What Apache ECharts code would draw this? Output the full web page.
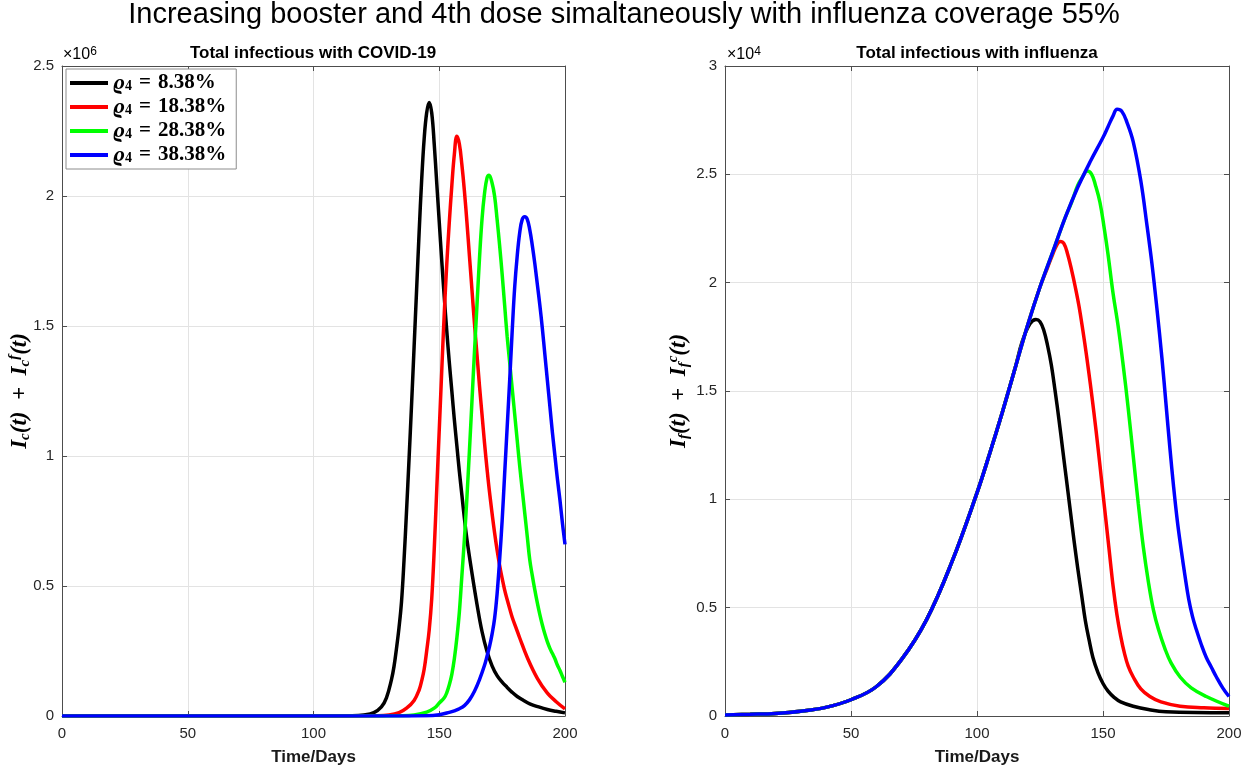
<!DOCTYPE html>
<html>
<head>
<meta charset="utf-8">
<script src="https://cdn.jsdelivr.net/npm/echarts@6/dist/echarts.min.js"></script>
<style>
  html, body { margin: 0; padding: 0; background: #fff; }
  #chart { width: 1248px; height: 773px; }
</style>
</head>
<body>
<div id="chart"></div>
<script>
const mainTitle = 'Increasing booster and 4th dose simaltaneously with influenza coverage 55%'
const panelTitles = ['Total infectious with COVID-19', 'Total infectious with influenza']
const doseLabels = ['8.38%', '18.38%', '28.38%', '38.38%']
const lineColors = ['#000000', '#ff0000', '#00ff00', '#0000ff']

// left panel: COVID-19 infectious, in units of 1e6
const covidT1 = [0, 100, 115, 120, 124, 127, 129, 131, 132, 133, 134, 135, 136, 137, 138, 139, 140, 141, 142, 143, 144, 145, 146, 147, 148, 149, 150, 151, 152, 153, 154, 155, 156, 157, 158, 159, 160, 161, 163, 165, 167, 169, 171, 173, 175, 177, 179, 181, 183.5, 186, 189.5, 193, 196.5, 200]
const covidV1 = [0, 0, 0.001, 0.004, 0.013, 0.035, 0.07, 0.14, 0.19, 0.26, 0.34, 0.44, 0.6, 0.79, 0.99, 1.2, 1.42, 1.64, 1.86, 2.06, 2.22, 2.32, 2.36, 2.32, 2.2, 2.05, 1.9, 1.75, 1.61, 1.48, 1.36, 1.25, 1.14, 1.04, 0.94, 0.85, 0.76, 0.68, 0.55, 0.43, 0.325, 0.248, 0.193, 0.155, 0.13, 0.11, 0.091, 0.075, 0.06, 0.047, 0.035, 0.025, 0.018, 0.012]
const covidT2 = [0, 110, 125, 130, 134, 137, 140, 142, 143, 144, 145, 146, 147, 148, 149, 150, 151, 152, 153, 154, 155, 156, 157, 158, 159, 160, 161, 162, 163, 164, 165, 166, 167, 168, 169, 170, 172, 174, 176, 177, 178, 179, 180.5, 182, 185, 189, 193, 196.5, 200]
const covidV2 = [0, 0, 0.001, 0.004, 0.013, 0.03, 0.06, 0.1, 0.135, 0.18, 0.25, 0.33, 0.45, 0.64, 0.87, 1.1, 1.33, 1.55, 1.74, 1.9, 2.04, 2.16, 2.23, 2.2, 2.12, 2.02, 1.9, 1.77, 1.64, 1.51, 1.39, 1.27, 1.16, 1.05, 0.95, 0.86, 0.705, 0.58, 0.485, 0.448, 0.413, 0.38, 0.34, 0.3, 0.225, 0.145, 0.088, 0.055, 0.027]
const covidT3 = [0, 120, 135, 140, 145, 148, 150, 152, 153, 154, 155, 156, 157, 158, 159, 160, 161, 162, 163, 164, 165, 166, 167, 168, 169, 169.8, 171, 172, 173, 174, 175, 176, 177, 178, 179, 180, 181, 182, 183, 184, 185, 186, 187, 188, 189, 190, 191, 192, 193, 194, 195, 196, 197, 198, 199, 200]
const covidV3 = [0, 0, 0.001, 0.004, 0.015, 0.03, 0.05, 0.07, 0.09, 0.12, 0.16, 0.22, 0.3, 0.4, 0.54, 0.68, 0.84, 1.02, 1.21, 1.4, 1.58, 1.76, 1.91, 2.01, 2.07, 2.08, 2.05, 2.0, 1.91, 1.81, 1.7, 1.58, 1.46, 1.36, 1.26, 1.16, 1.06, 0.96, 0.87, 0.78, 0.69, 0.6, 0.54, 0.485, 0.435, 0.39, 0.35, 0.315, 0.285, 0.26, 0.24, 0.22, 0.195, 0.175, 0.152, 0.13]
const covidT4 = [0, 130, 145, 150, 154, 156, 158, 160, 162, 164, 166, 168, 169, 170, 171, 172, 173, 174, 175, 176, 177, 178, 179, 180, 181, 182, 183, 184, 185, 186, 187, 188, 189, 190, 191, 192, 193, 194, 195, 196, 197, 198, 199, 200]
const covidV4 = [0, 0, 0.001, 0.005, 0.014, 0.02, 0.028, 0.04, 0.062, 0.095, 0.14, 0.195, 0.23, 0.268, 0.315, 0.375, 0.47, 0.6, 0.75, 0.93, 1.11, 1.29, 1.48, 1.65, 1.77, 1.86, 1.91, 1.92, 1.91, 1.87, 1.81, 1.74, 1.66, 1.58, 1.49, 1.39, 1.29, 1.19, 1.09, 1.0, 0.91, 0.83, 0.74, 0.66]

// right panel: influenza infectious, in units of 1e4
// common rising part shared by all four curves
const fluRiseT = [0, 10, 20, 30, 40, 50, 60, 70, 80, 90, 100, 105, 110, 115, 120, 125, 130, 135, 140, 145, 150]
const fluRiseV = [0.005, 0.008, 0.012, 0.022, 0.04, 0.075, 0.135, 0.26, 0.445, 0.71, 1.03, 1.21, 1.40, 1.60, 1.80, 1.98, 2.14, 2.30, 2.44, 2.56, 2.67]
// where each curve leaves the common part
const fluTailT1 = [118, 121, 123.4, 125, 126.5, 128, 129.5, 131, 132.5, 134, 135.5, 137, 138.5, 140, 141.5, 143, 144.5, 146, 148, 150, 152, 154.5, 157, 162, 168, 175, 200]
const fluTailV1 = [1.73, 1.81, 1.83, 1.82, 1.78, 1.71, 1.62, 1.5, 1.37, 1.23, 1.09, 0.95, 0.81, 0.68, 0.56, 0.44, 0.35, 0.27, 0.2, 0.15, 0.115, 0.085, 0.065, 0.045, 0.03, 0.02, 0.015]
const fluTailT2 = [128, 130, 131.5, 133, 134.5, 136, 137.5, 139, 140.5, 142, 143.5, 145, 146.5, 148, 149.5, 151, 152.5, 154, 155.5, 157, 158.5, 160, 162, 165, 168.6, 173, 180.6, 190, 200]
const fluTailV2 = [2.07, 2.13, 2.17, 2.19, 2.18, 2.13, 2.06, 1.98, 1.89, 1.78, 1.66, 1.53, 1.39, 1.24, 1.08, 0.92, 0.76, 0.6, 0.47, 0.37, 0.29, 0.23, 0.18, 0.125, 0.09, 0.065, 0.045, 0.038, 0.035]
const fluTailT3 = [137.5, 140, 142, 143.7, 145.5, 147, 148.8, 150.5, 152, 154, 156, 158, 160, 162, 164, 166, 168, 170, 172, 174.6, 177, 180.6, 185, 191, 200]
const fluTailV3 = [2.37, 2.45, 2.49, 2.515, 2.5, 2.45, 2.37, 2.25, 2.13, 1.95, 1.8, 1.62, 1.42, 1.2, 0.98, 0.78, 0.62, 0.49, 0.4, 0.31, 0.245, 0.18, 0.13, 0.09, 0.045]
const fluTailT4 = [152, 154, 155.6, 157.5, 159.5, 162, 165, 167.5, 169.5, 171.4, 173.4, 175, 176.6, 178, 179.5, 181, 182.5, 184, 185.5, 187, 189, 191, 193, 195, 197.5, 200]
const fluTailV4 = [2.72, 2.77, 2.8, 2.79, 2.74, 2.65, 2.47, 2.26, 2.08, 1.88, 1.65, 1.44, 1.23, 1.06, 0.9, 0.77, 0.65, 0.54, 0.46, 0.4, 0.33, 0.27, 0.225, 0.18, 0.13, 0.09]

const SANS = "'Liberation Sans', Arial, Helvetica, sans-serif"
const SERIF = "'Liberation Serif', 'DejaVu Serif', 'Times New Roman', serif"
const AXIS_COLOR = '#4d4d4d'

function pairs(t, v) {
  return t.map((x, i) => [x, v[i]])
}

function fluCurve(tailT, tailV) {
  let head = pairs(fluRiseT, fluRiseV).filter(p => p[0] < tailT[0])
  return head.concat(pairs(tailT, tailV))
}

const covidData = [
  pairs(covidT1, covidV1),
  pairs(covidT2, covidV2),
  pairs(covidT3, covidV3),
  pairs(covidT4, covidV4)
]
const fluData = [
  fluCurve(fluTailT1, fluTailV1),
  fluCurve(fluTailT2, fluTailV2),
  fluCurve(fluTailT3, fluTailV3),
  fluCurve(fluTailT4, fluTailV4)
]

function mainX(grid) {
  return {
    type: 'value', gridIndex: grid, min: 0, max: 200, interval: 50,
    name: 'Time/Days', nameLocation: 'middle', nameGap: 33,
    nameTextStyle: { fontFamily: SANS, fontWeight: 'bold', fontSize: 17, color: '#1a1a1a' },
    axisLine: { show: true, onZero: false, lineStyle: { color: AXIS_COLOR, width: 1 } },
    axisTick: { show: true, inside: true, length: 5, lineStyle: { color: AXIS_COLOR } },
    axisLabel: { fontFamily: SANS, fontSize: 15, color: '#262626', margin: 10 },
    splitLine: { show: true, lineStyle: { color: '#e3e3e3', width: 1 } }
  }
}
function topX(grid) {
  return {
    type: 'value', gridIndex: grid, position: 'top', min: 0, max: 200, interval: 50,
    axisLine: { show: true, onZero: false, lineStyle: { color: AXIS_COLOR, width: 1 } },
    axisTick: { show: true, inside: true, length: 5, lineStyle: { color: AXIS_COLOR } },
    axisLabel: { show: false },
    splitLine: { show: false }
  }
}
function mainY(grid, max) {
  return {
    type: 'value', gridIndex: grid, min: 0, max: max, interval: 0.5,
    axisLine: { show: true, onZero: false, lineStyle: { color: AXIS_COLOR, width: 1 } },
    axisTick: { show: true, inside: true, length: 5, lineStyle: { color: AXIS_COLOR } },
    axisLabel: { fontFamily: SANS, fontSize: 15, color: '#262626', margin: 8 },
    splitLine: { show: true, lineStyle: { color: '#e3e3e3', width: 1 } }
  }
}
function rightY(grid, max) {
  return {
    type: 'value', gridIndex: grid, position: 'right', min: 0, max: max, interval: 0.5,
    axisLine: { show: true, onZero: false, lineStyle: { color: AXIS_COLOR, width: 1 } },
    axisTick: { show: true, inside: true, length: 5, lineStyle: { color: AXIS_COLOR } },
    axisLabel: { show: false },
    splitLine: { show: false }
  }
}

const series = []
covidData.forEach((d, i) => {
  series.push({
    name: doseLabels[i], type: 'line', xAxisIndex: 0, yAxisIndex: 0, data: d,
    showSymbol: false, smooth: 0.4,
    lineStyle: { color: lineColors[i], width: 3.5 }, itemStyle: { color: lineColors[i] }
  })
})
fluData.forEach((d, i) => {
  series.push({
    name: doseLabels[i], type: 'line', xAxisIndex: 2, yAxisIndex: 2, data: d,
    showSymbol: false, smooth: 0.4,
    lineStyle: { color: lineColors[i], width: 3.5 }, itemStyle: { color: lineColors[i] }
  })
})

const subSup = {
  i: { fontFamily: SERIF, fontStyle: 'italic', fontWeight: 'bold', fontSize: 23, lineHeight: 26, color: '#000' },
  n: { fontFamily: SERIF, fontStyle: 'italic', fontWeight: 'bold', fontSize: 23, lineHeight: 26, color: '#000' },
  s: { fontFamily: SERIF, fontStyle: 'italic', fontWeight: 'bold', fontSize: 15, lineHeight: 13, verticalAlign: 'bottom', color: '#000' },
  p: { fontFamily: SERIF, fontStyle: 'italic', fontWeight: 'bold', fontSize: 15, lineHeight: 13, verticalAlign: 'top', color: '#000' }
}
const expRich = {
  b: { fontFamily: SANS, fontSize: 16, lineHeight: 18, color: '#262626' },
  e: { fontFamily: SANS, fontSize: 12, lineHeight: 10, verticalAlign: 'top', color: '#262626' }
}

const option = {
  backgroundColor: '#ffffff',
  animation: false,
  grid: [
    { left: 62, right: 683, top: 66, bottom: 57 },
    { left: 725, right: 19, top: 66, bottom: 57 }
  ],
  xAxis: [mainX(0), topX(0), mainX(1), topX(1)],
  yAxis: [mainY(0, 2.5), rightY(0, 2.5), mainY(1, 3), rightY(1, 3)],
  legend: {
    data: doseLabels,
    orient: 'vertical', left: 66, top: 69,
    icon: 'rect', itemWidth: 38, itemHeight: 4, itemGap: 2,
    padding: [3, 10, 3, 4],
    borderColor: '#8c8c8c', borderWidth: 1, borderRadius: 0, backgroundColor: '#ffffff',
    selectedMode: false,
    formatter: name => '{r|ϱ}{s|4}{e|=}{t|' + name + '}',
    textStyle: {
      color: '#000',
      rich: {
        r: { fontFamily: SERIF, fontStyle: 'italic', fontWeight: 'bold', fontSize: 22, lineHeight: 21 },
        s: { fontFamily: SERIF, fontWeight: 'bold', fontSize: 14, lineHeight: 12, verticalAlign: 'bottom' },
        e: { fontFamily: SERIF, fontWeight: 'bold', fontSize: 21, lineHeight: 21, padding: [0, 7, 0, 7] },
        t: { fontFamily: SERIF, fontWeight: 'bold', fontSize: 21, lineHeight: 21 }
      }
    }
  },
  graphic: [
    { type: 'text', x: 624, y: 15, style: { text: mainTitle, align: 'center', verticalAlign: 'middle', font: '29px ' + SANS, fill: '#000' } },
    { type: 'text', x: 313, y: 53, style: { text: panelTitles[0], align: 'center', verticalAlign: 'middle', font: 'bold 17px ' + SANS, fill: '#000' } },
    { type: 'text', x: 977, y: 53, style: { text: panelTitles[1], align: 'center', verticalAlign: 'middle', font: 'bold 17px ' + SANS, fill: '#000' } },
    { type: 'text', x: 63, y: 55, style: { text: '{b|×10}{e|6}', rich: expRich, align: 'left', verticalAlign: 'middle' } },
    { type: 'text', x: 727, y: 55, style: { text: '{b|×10}{e|4}', rich: expRich, align: 'left', verticalAlign: 'middle' } },
    { type: 'text', x: 20, y: 391, rotation: Math.PI / 2,
      style: { text: '{i|I}{s|c}{n|(t)  +  I}{s|c}{p|f}{n|(t)}', rich: subSup, align: 'center', verticalAlign: 'middle' } },
    { type: 'text', x: 679, y: 391, rotation: Math.PI / 2,
      style: { text: '{i|I}{s|f}{n|(t)  +  I}{s|f}{p|c}{n|(t)}', rich: subSup, align: 'center', verticalAlign: 'middle' } }
  ],
  series: series
}

const chart = echarts.init(document.getElementById('chart'))
chart.setOption(option)
window.addEventListener('resize', () => chart.resize())
</script>
</body>
</html>
